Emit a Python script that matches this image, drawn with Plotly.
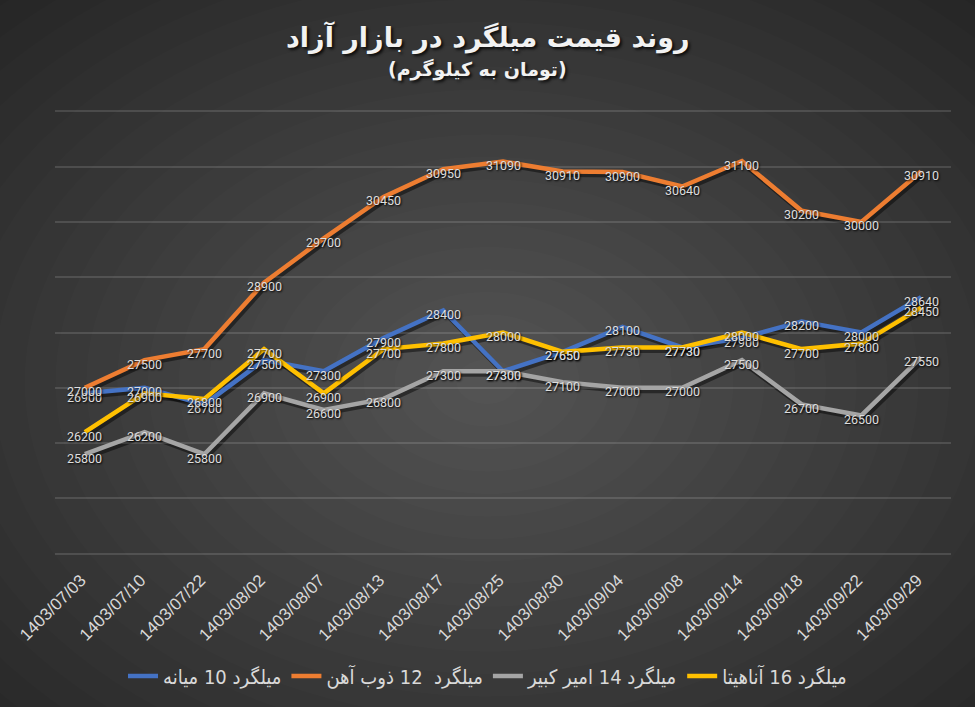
import plotly.graph_objects as go

dates = ["1403/07/03", "1403/07/10", "1403/07/22", "1403/08/02", "1403/08/07",
         "1403/08/13", "1403/08/17", "1403/08/25", "1403/08/30", "1403/09/04",
         "1403/09/08", "1403/09/14", "1403/09/18", "1403/09/22", "1403/09/29"]

mianeh_10 = [26900, 27000, 26700, 27500, 27300, 27900, 28400, 27300, 27650, 28100,
             27730, 27900, 28200, 28000, 28640]
zobahan_12 = [27000, 27500, 27700, 28900, 29700, 30450, 30950, 31090, 30910, 30900,
              30640, 31100, 30200, 30000, 30910]
amirkabir_14 = [25800, 26200, 25800, 26900, 26600, 26800, 27300, 27300, 27100, 27000,
                27000, 27500, 26700, 26500, 27550]
anahita_16 = [26200, 26900, 26800, 27700, 26900, 27700, 27800, 28000, 27650, 27730,
              27730, 28000, 27700, 27800, 28450]

series = [
    ("میلگرد 10 میانه", mianeh_10, "#4472C4"),
    ("میلگرد  12 ذوب آهن", zobahan_12, "#ED7D31"),
    ("میلگرد 14 امیر کبیر", amirkabir_14, "#A5A5A5"),
    ("میلگرد 16 آناهیتا", anahita_16, "#FFC000"),
]

W, H = 975, 707
# plot area in pixels
left, right, top, bottom = 55, 951, 109, 556
dom_x = [left / W, right / W]
dom_y = [(H - bottom) / H, (H - top) / H]
# shadow axes shifted a few px right/down
sh_x = [(left + 2) / W, (right + 2) / W]
sh_y = [(H - bottom - 3) / H, (H - top - 3) / H]
y_range = [23960, 32040]

fig = go.Figure()

# drop shadows under the lines (first subplot, drawn first)
for name, vals, col in series:
    fig.add_trace(go.Scatter(x=dates, y=vals, mode="lines", xaxis="x", yaxis="y",
                             line=dict(color="rgba(0,0,0,0.45)", width=5),
                             hoverinfo="skip", showlegend=False))

for name, vals, col in series:
    fig.add_trace(go.Scatter(x=dates, y=vals, mode="lines", name=name, xaxis="x2", yaxis="y2",
                             line=dict(color=col, width=4.5)))

# data labels
label_font = dict(family="Roboto", size=12.5, color="#dedede", shadow="1px 1px 2px #000")
annotations = []
for name, vals, col in series:
    for d, v in zip(dates, vals):
        annotations.append(dict(x=d, y=v, xref="x2", yref="y2", text=str(v),
                                showarrow=False, yshift=-4, font=label_font))

title_shadow = "2px 2px 3px rgba(0,0,0,0.8)"
annotations.append(dict(x=0.5, y=(H - 38) / H, xref="paper", yref="paper", yanchor="middle",
                        text="<b>روند قیمت میلگرد در بازار آزاد</b>", showarrow=False,
                        font=dict(family="DejaVu Sans", size=27, color="#f2f2f2",
                                  shadow=title_shadow)))
annotations.append(dict(x=477 / W, y=(H - 70) / H, xref="paper", yref="paper", yanchor="middle",
                        text="<b>(تومان به کیلوگرم)</b>", showarrow=False,
                        font=dict(family="DejaVu Sans", size=19, color="#f2f2f2",
                                  shadow=title_shadow)))

# radial background gradient from stacked translucent ellipses
shapes = []
cx, cy = 487 / W, 0.46
n = 24
for i in range(n):
    s = 1.0 - i / n
    rx = 740 * s / W
    ry = 540 * s / H
    shapes.append(dict(type="circle", xref="paper", yref="paper", layer="below",
                       x0=cx - rx, x1=cx + rx, y0=cy - ry, y1=cy + ry,
                       fillcolor="rgba(255,255,255,0.01)", line=dict(width=0)))

fig.update_layout(
    width=W, height=H,
    margin=dict(l=0, r=0, t=0, b=0, autoexpand=False),
    paper_bgcolor="#232323",
    plot_bgcolor="rgba(0,0,0,0)",
    shapes=shapes,
    annotations=annotations,
    xaxis=dict(domain=sh_x, type="category", range=[-0.5, 14.5], visible=False, anchor="y"),
    yaxis=dict(domain=sh_y, range=y_range, visible=False, anchor="x"),
    xaxis2=dict(domain=dom_x, type="category", range=[-0.5, 14.5], showgrid=False,
                zeroline=False, showline=False, anchor="y2", tickangle=-45, ticks="",
                ticklabelshift=-4, ticklabelstandoff=10, automargin=False,
                tickfont=dict(family="Liberation Sans", size=17, color="#d9d9d9")),
    yaxis2=dict(domain=dom_y, range=y_range, dtick=1000, tick0=24000, showgrid=True,
                gridcolor="rgba(255,255,255,0.13)", gridwidth=1.5, showticklabels=False,
                zeroline=False, showline=False, anchor="x2", automargin=False),
    legend=dict(orientation="h", x=0.5, xanchor="center", y=(H - 676) / H, yanchor="middle",
                font=dict(family="DejaVu Sans Condensed, DejaVu Sans", size=20, color="#d9d9d9"),
                bgcolor="rgba(0,0,0,0)"),
    showlegend=True,
)

fig.write_html("out.html", config={"displayModeBar": False},
               post_script="document.body.style.margin='0';")
